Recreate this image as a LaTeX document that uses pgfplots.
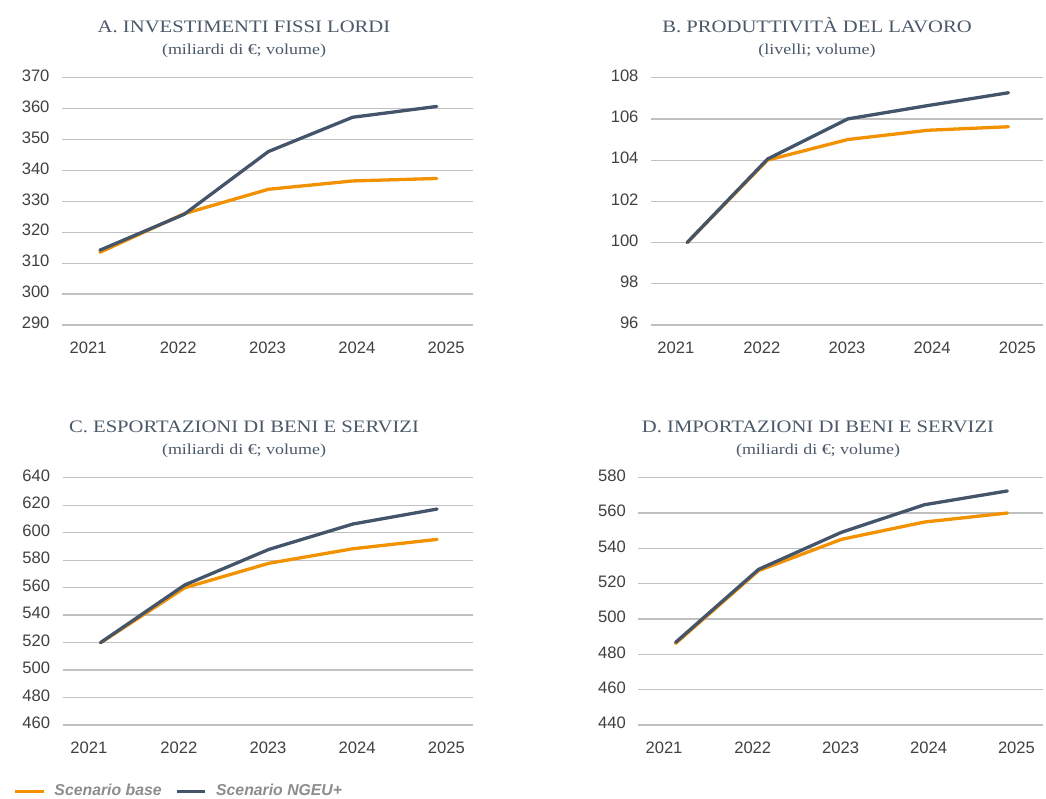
\documentclass[border=0pt]{standalone}
\usepackage{fontspec}
\setmainfont{Liberation Sans}
\newfontfamily\titlefont[FakeStretch=1.18]{Liberation Serif}
\usepackage{pgfplots}
\pgfplotsset{compat=1.18}
\definecolor{cbase}{HTML}{F39200}
\definecolor{cngeu}{HTML}{44546A}
\definecolor{ctitle}{HTML}{4A5868}
\definecolor{ctick}{HTML}{404040}
\definecolor{cgrid}{HTML}{C0C0C0}
\definecolor{cleg}{HTML}{8C8C8C}

\pgfplotsset{
  panel/.style={
    scale only axis,
    xmin=-0.45, xmax=4.43,
    xtick={-0.14,0.93,1.99,3.05,4.11},
    xticklabels={2021,2022,2023,2024,2025},
    axis line style={draw=none},
    major tick length=0pt,
    ymajorgrids,
    grid style={cgrid, line width=1.2pt},
    tick label style={font=\fontsize{16.6}{18}\selectfont, text=ctick},
    /pgf/number format/assume math mode=true,
    /pgf/number format/1000 sep={},
    yticklabel style={anchor=east, xshift=-9pt, yshift=2pt},
    xticklabel style={anchor=base, yshift=-28.6pt},
    clip=false,
  },
  sbase/.style={cbase, line width=3.3pt, line join=round, line cap=round, mark=none},
  sngeu/.style={cngeu, line width=3.3pt, line join=round, line cap=round, mark=none},
}

\begin{document}
\begin{tikzpicture}[x=1pt,y=1pt]
\useasboundingbox (0,0) rectangle (1046,798);

% Panel A
\begin{axis}[panel, at={(62pt,473pt)}, anchor=south west, width=411pt, height=247.3pt,
  ymin=290, ymax=370, ytick={290,300,...,370}]
\addplot[sbase] coordinates {(0,313.5) (1,326.0) (2,333.9) (3,336.6) (4,337.4)};
\addplot[sngeu] coordinates {(0,314.2) (1,325.8) (2,346.1) (3,357.2) (4,360.7)};
\end{axis}

% Panel B
\begin{axis}[panel, at={(651pt,473pt)}, anchor=south west, width=392pt, height=247.3pt,
  ymin=96, ymax=108, ytick={96,98,...,108}]
\addplot[sbase] coordinates {(0,100.0) (1,104.0) (2,105.0) (3,105.45) (4,105.62)};
\addplot[sngeu] coordinates {(0,100.0) (1,104.05) (2,106.0) (3,106.65) (4,107.27)};
\end{axis}

% Panel C
\begin{axis}[panel, at={(62.7pt,73pt)}, anchor=south west, width=410.6pt, height=247.3pt,
  ymin=460, ymax=640, ytick={460,480,...,640},
  legend columns=2,
  legend style={at={(axis description cs:-0.1186,-0.2669)}, anchor=west, draw=none, fill=none,
    inner sep=0pt, outer sep=0pt,
    font=\fontsize{15.8}{18}\selectfont\bfseries\itshape, text=cleg,
    nodes={inner sep=0pt},
    /tikz/every odd column/.style={column sep=9.5pt},
    /tikz/every even column/.style={column sep=14pt}},
  legend image code/.code={\draw[#1, line width=3pt, line cap=butt] (0pt,0pt) -- (28pt,0pt);}]
\addplot[sbase] coordinates {(0,519.8) (1,559.9) (2,577.7) (3,588.3) (4,595.1)};
\addlegendentry{Scenario base}
\addplot[sngeu] coordinates {(0,520.0) (1,561.9) (2,587.8) (3,606.3) (4,617.2)};
\addlegendentry{Scenario NGEU+}
\end{axis}

% Panel D
\begin{axis}[panel, at={(638.3pt,73pt)}, anchor=south west, width=404.7pt, height=247.3pt,
  ymin=440, ymax=580, ytick={440,460,...,580}]
\addplot[sbase] coordinates {(0,486.2) (1,527.4) (2,545.1) (3,554.9) (4,560.0)};
\addplot[sngeu] coordinates {(0,486.8) (1,528.1) (2,549.1) (3,564.7) (4,572.5)};
\end{axis}

% Titles
\begin{scope}[every node/.style={text=ctitle, inner sep=0pt, anchor=base}]
\node[font=\titlefont\fontsize{17.5}{20}\selectfont] at (244,765.7) {A. INVESTIMENTI FISSI LORDI};
\node[font=\titlefont\fontsize{15.2}{17}\selectfont] at (244,743) {(miliardi di €; volume)};
\node[font=\titlefont\fontsize{17.5}{20}\selectfont] at (817,765.7) {B. PRODUTTIVITÀ DEL LAVORO};
\node[font=\titlefont\fontsize{15.2}{17}\selectfont] at (817,743) {(livelli; volume)};
\node[font=\titlefont\fontsize{17.5}{20}\selectfont] at (244,365.7) {C. ESPORTAZIONI DI BENI E SERVIZI};
\node[font=\titlefont\fontsize{15.2}{17}\selectfont] at (244,343) {(miliardi di €; volume)};
\node[font=\titlefont\fontsize{17.5}{20}\selectfont] at (818,365.7) {D. IMPORTAZIONI DI BENI E SERVIZI};
\node[font=\titlefont\fontsize{15.2}{17}\selectfont] at (818,343) {(miliardi di €; volume)};
\end{scope}
\end{tikzpicture}
\end{document}
